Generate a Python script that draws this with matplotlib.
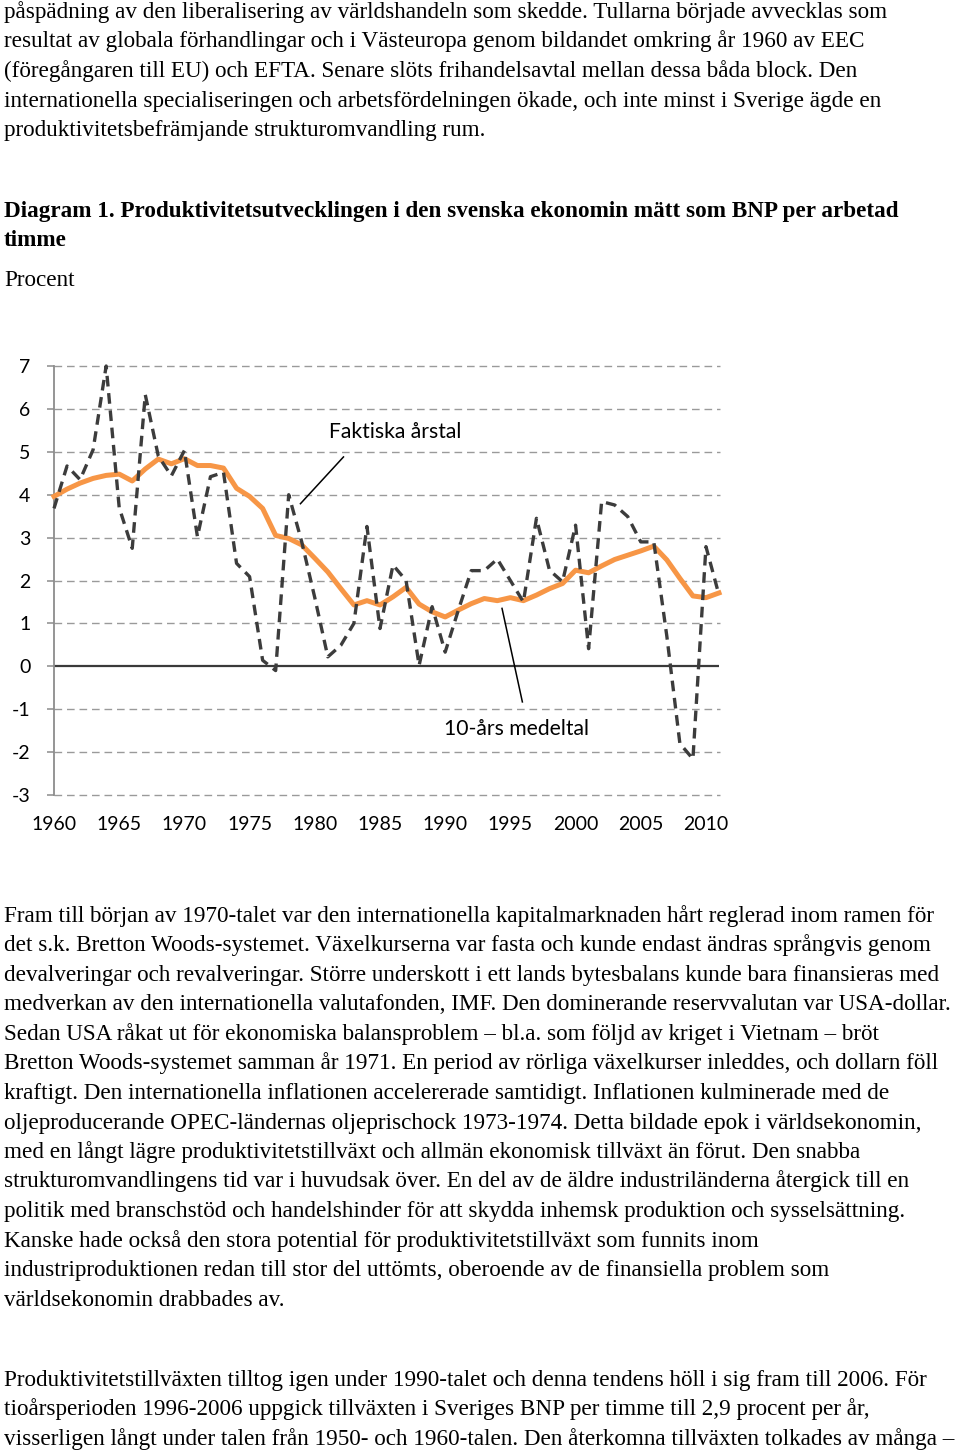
import matplotlib
matplotlib.use('Agg')
import matplotlib.pyplot as plt

# årtal och serier (procent)
years = list(range(1960, 2012))
faktiska = [3.68, 4.67, 4.35, 5.05, 7.0, 3.7, 2.75, 6.33, 4.9, 4.44,
            5.03, 3.02, 4.42, 4.52, 2.4, 2.09, 0.14, -0.1, 4.0, 2.9,
            1.6, 0.22, 0.49, 1.0, 3.26, 0.88, 2.36, 2.0, 0.02, 1.39,
            0.33, 1.3, 2.23, 2.23, 2.5, 2.0, 1.5, 3.45, 2.24, 1.97,
            3.29, 0.41, 3.84, 3.76, 3.49, 2.9, 2.9, 0.7, -1.8, -2.16,
            2.79, 1.66]
medeltal = [3.96, 4.13, 4.27, 4.38, 4.45, 4.48, 4.32, 4.6, 4.83, 4.72,
            4.84, 4.68, 4.68, 4.62, 4.15, 3.96, 3.68, 3.05, 2.98, 2.83,
            2.52, 2.2, 1.81, 1.43, 1.53, 1.43, 1.62, 1.84, 1.45, 1.27,
            1.15, 1.31, 1.46, 1.58, 1.53, 1.6, 1.53, 1.66, 1.81, 1.93,
            2.24, 2.18, 2.34, 2.49, 2.59, 2.69, 2.8, 2.48, 2.05, 1.64,
            1.6, 1.71]
yticks = list(range(-3, 8))
xticks = list(range(1960, 2011, 5))

text_top = [
    "påspädning av den liberalisering av världshandeln som skedde. Tullarna började avvecklas som",
    "resultat av globala förhandlingar och i Västeuropa genom bildandet omkring år 1960 av EEC",
    "(föregångaren till EU) och EFTA. Senare slöts frihandelsavtal mellan dessa båda block. Den",
    "internationella specialiseringen och arbetsfördelningen ökade, och inte minst i Sverige ägde en",
    "produktivitetsbefrämjande strukturomvandling rum.",
]
title_lines = [
    "Diagram 1. Produktivitetsutvecklingen i den svenska ekonomin mätt som BNP per arbetad",
    "timme",
]
text_mid = [
    "Fram till början av 1970-talet var den internationella kapitalmarknaden hårt reglerad inom ramen för",
    "det s.k. Bretton Woods-systemet. Växelkurserna var fasta och kunde endast ändras språngvis genom",
    "devalveringar och revalveringar. Större underskott i ett lands bytesbalans kunde bara finansieras med",
    "medverkan av den internationella valutafonden, IMF. Den dominerande reservvalutan var USA-dollar.",
    "Sedan USA råkat ut för ekonomiska balansproblem – bl.a. som följd av kriget i Vietnam – bröt",
    "Bretton Woods-systemet samman år 1971. En period av rörliga växelkurser inleddes, och dollarn föll",
    "kraftigt. Den internationella inflationen accelererade samtidigt. Inflationen kulminerade med de",
    "oljeproducerande OPEC-ländernas oljeprischock 1973-1974. Detta bildade epok i världsekonomin,",
    "med en långt lägre produktivitetstillväxt och allmän ekonomisk tillväxt än förut. Den snabba",
    "strukturomvandlingens tid var i huvudsak över. En del av de äldre industriländerna återgick till en",
    "politik med branschstöd och handelshinder för att skydda inhemsk produktion och sysselsättning.",
    "Kanske hade också den stora potential för produktivitetstillväxt som funnits inom",
    "industriproduktionen redan till stor del uttömts, oberoende av de finansiella problem som",
    "världsekonomin drabbades av.",
]
text_end = [
    "Produktivitetstillväxten tilltog igen under 1990-talet och denna tendens höll i sig fram till 2006. För",
    "tioårsperioden 1996-2006 uppgick tillväxten i Sveriges BNP per timme till 2,9 procent per år,",
    "visserligen långt under talen från 1950- och 1960-talen. Den återkomna tillväxten tolkades av många –",
]

W, H = 960, 1454
fig = plt.figure(figsize=(W / 100, H / 100), dpi=100)

serif = 'Liberation Serif'
body_size = 16.7
step = 29.5


def put(x, y, s, **kw):
    fig.text(x / W, 1 - y / H, s, family=serif, fontsize=body_size,
             va='baseline', ha='left', **kw)


for i, s in enumerate(text_top):
    put(4, 18 + i * step, s)
for i, s in enumerate(title_lines):
    put(4, 217 + i * step, s, weight='bold')
put(4, 286, "Procent")
for i, s in enumerate(text_mid):
    put(4, 922 + i * step, s)
for i, s in enumerate(text_end):
    put(4, 1386 + i * step, s)

# diagrammet
left, right, top, bottom = 54, 719, 366, 795
ax = fig.add_axes([left / W, 1 - bottom / H, (right - left) / W, (bottom - top) / H])
ax.set_xlim(1960, 2011)
ax.set_ylim(-3, 7)

sans = 'Lato'
for v in yticks:
    if v == 0:
        continue
    ax.hlines(v, 1960, 2011.1, colors='#9a9a9a', lw=1.0,
              linestyles=(0, (5.5, 3.5)), clip_on=False, zorder=1)
ax.axhline(0, color='#3a3a3a', lw=1.6, zorder=2)

ax.plot(years, medeltal, color='#F79646', lw=3.6, zorder=3,
        solid_joinstyle='round', clip_on=False)
ax.plot(years, faktiska, color='#3c3c3c', lw=2.4, dashes=(3.2, 2.0),
        zorder=4, clip_on=False)

for s in ['top', 'right', 'bottom']:
    ax.spines[s].set_visible(False)
ax.spines['left'].set_color('#8c8c8c')
ax.spines['left'].set_linewidth(1.3)

ax.set_yticks(yticks)
ax.set_yticklabels([str(v) for v in yticks], family=sans, fontsize=14)
ax.tick_params(axis='y', length=5, width=1.1, color='#8c8c8c', pad=12)
ax.set_xticks(xticks)
ax.set_xticklabels([str(v) for v in xticks], family=sans, fontsize=14)
ax.tick_params(axis='x', length=0, pad=15)

ax.text(1986.2, 5.47, "Faktiska årstal", family=sans, fontsize=15.2,
        ha='center', va='center')
ax.plot([1982.2, 1978.9], [4.88, 3.79], color='black', lw=1.1)
ax.text(1995.45, -1.47, "10-års medeltal", family=sans, fontsize=15.2,
        ha='center', va='center')
ax.plot([1994.36, 1995.92], [1.35, -0.83], color='black', lw=1.1)

fig.savefig('out.png', dpi=100)
